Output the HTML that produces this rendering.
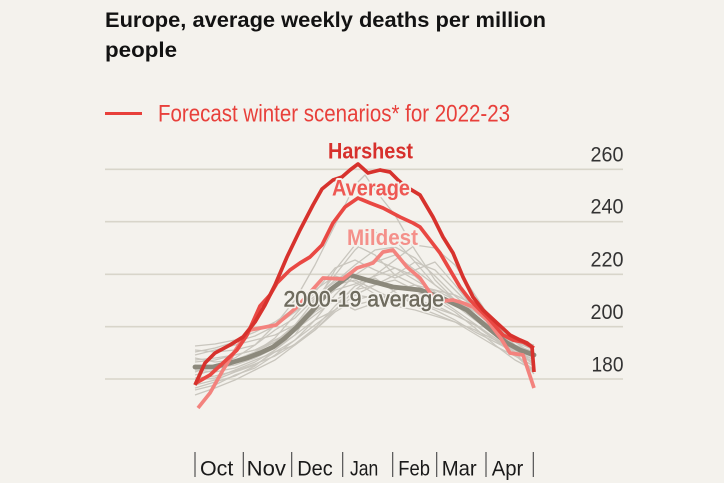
<!DOCTYPE html>
<html>
<head>
<meta charset="utf-8">
<style>
  html,body{margin:0;padding:0;background:#f4f2ed;}
  svg{display:block;}
  text{font-family:"Liberation Sans",sans-serif;}
</style>
</head>
<body>
<svg width="724" height="483" viewBox="0 0 724 483" xmlns="http://www.w3.org/2000/svg">
  <rect x="0" y="0" width="724" height="483" fill="#f4f2ed"/>

  <!-- Title -->
  <text x="105" y="27" font-size="21" font-weight="bold" fill="#121212" textLength="441" lengthAdjust="spacingAndGlyphs">Europe, average weekly deaths per million</text>
  <text x="105" y="57" font-size="21" font-weight="bold" fill="#121212" textLength="72" lengthAdjust="spacingAndGlyphs">people</text>

  <!-- Legend -->
  <line x1="105" y1="113.5" x2="142" y2="113.5" stroke="#e8403b" stroke-width="3"/>
  <text x="158" y="121.5" font-size="24" fill="#e8403b" textLength="352" lengthAdjust="spacingAndGlyphs">Forecast winter scenarios* for 2022-23</text>

  <!-- Gridlines -->
  <g stroke="#d8d5ca" stroke-width="1.6">
    <line x1="105" y1="169.3" x2="623" y2="169.3"/>
    <line x1="105" y1="221.7" x2="623" y2="221.7"/>
    <line x1="105" y1="274.3" x2="623" y2="274.3"/>
    <line x1="105" y1="326.7" x2="623" y2="326.7"/>
    <line x1="105" y1="379" x2="623" y2="379"/>
  </g>

  <!-- Y labels -->
  <g font-size="21" fill="#333" text-anchor="end">
    <text x="623.5" y="161.7" textLength="33" lengthAdjust="spacingAndGlyphs">260</text>
    <text x="623.5" y="213.7" textLength="33" lengthAdjust="spacingAndGlyphs">240</text>
    <text x="623.5" y="266.5" textLength="33" lengthAdjust="spacingAndGlyphs">220</text>
    <text x="623.5" y="319" textLength="33" lengthAdjust="spacingAndGlyphs">200</text>
    <text x="623.5" y="371.5" textLength="32" lengthAdjust="spacingAndGlyphs">180</text>
  </g>

  <!-- Thin grey year lines -->
  <g fill="none" stroke="#c9c6be" stroke-width="1.3" stroke-linejoin="round">
    <polyline points="195,372 215,365 235,358 255,345 275,325 295,300 315,265 335,225 355,185 365,175 375,190 395,215 415,250 435,280 455,300 475,318 495,335 515,350 534,360"/>
    <polyline points="195,360 215,358 235,355 255,350 275,340 295,330 315,315 335,300 355,290 375,275 395,260 415,245 435,248 455,265 475,295 495,325 515,345 534,365"/>
    <polyline points="195,380 215,378 235,370 255,362 275,350 295,335 315,305 335,270 355,245 375,255 395,275 415,285 435,295 455,305 475,320 495,335 515,350 534,365"/>
    <polyline points="195,355 215,350 235,345 255,340 275,335 295,325 315,310 335,300 355,305 375,300 395,295 415,300 435,305 455,315 475,325 495,338 515,355 534,370"/>
    <polyline points="195,390 215,385 235,375 255,368 275,355 295,340 315,320 335,295 355,275 375,262 395,255 415,270 435,285 455,300 475,315 495,330 515,342 534,350"/>
    <polyline points="195,365 215,368 235,365 255,358 275,348 295,335 315,320 335,310 355,295 375,298 395,300 415,300 435,308 455,315 475,325 495,340 515,355 534,372"/>
    <polyline points="195,375 215,370 235,362 255,352 275,338 295,315 315,292 335,268 355,260 375,270 395,278 415,270 435,262 455,285 475,310 495,330 515,348 534,358"/>
    <polyline points="195,358 215,362 235,360 255,355 275,345 295,330 315,312 335,300 355,310 375,303 395,290 415,285 435,290 455,300 475,312 495,325 515,340 534,348"/>
    <polyline points="195,385 215,380 235,372 255,365 275,352 295,340 315,325 335,310 355,295 375,285 395,280 415,290 435,300 455,312 475,328 495,345 515,360 534,370"/>
    <polyline points="195,350 215,352 235,350 255,345 275,330 295,318 315,298 335,280 355,270 375,260 395,268 415,280 435,292 455,305 475,318 495,332 515,345 534,352"/>
    <polyline points="195,370 215,372 235,368 255,360 275,352 295,345 315,330 335,310 355,290 375,285 395,275 415,262 435,270 455,290 475,310 495,328 515,342 534,355"/>
    <polyline points="195,362 215,360 235,355 255,350 275,342 295,325 315,300 335,275 355,250 375,232 395,240 415,262 435,285 455,300 475,315 495,330 515,345 534,358"/>
    <polyline points="195,395 215,388 235,380 255,370 275,360 295,345 315,330 335,312 355,300 375,295 395,298 415,302 435,310 455,320 475,332 495,342 515,352 534,362"/>
    <polyline points="195,368 215,365 235,360 255,352 275,342 295,325 315,305 335,285 355,280 375,290 395,300 415,295 435,290 455,295 475,305 495,322 515,340 534,350"/>
    <polyline points="195,352 215,348 235,342 255,336 275,326 295,312 315,296 335,282 355,265 375,250 395,247 415,258 435,276 455,296 475,312 495,328 515,340 534,345"/>
    <polyline points="195,378 215,376 235,371 255,364 275,356 295,344 315,328 335,306 355,286 375,278 395,292 415,306 435,314 455,322 475,334 495,346 515,356 534,366"/>
    <polyline points="195,346 215,344 235,340 255,332 275,322 295,308 315,290 335,276 355,282 375,294 395,306 415,310 435,316 455,322 475,330 495,340 515,350 534,360"/>
    <polyline points="195,388 215,382 235,376 255,366 275,350 295,330 315,306 335,290 355,284 375,276 395,268 415,276 435,296 455,310 475,324 495,338 515,352 534,374"/>
  </g>

  <!-- 2000-19 average -->
  <polyline fill="none" stroke="#8c897c" stroke-width="4.8" stroke-linejoin="round" stroke-linecap="round"
    points="195,367 213,367 230,363 247,358 260,353 273,347 285,338 297,327 313,310 330,290 350,275 367,280 393,287 420,290 440,297 467,310 487,327 507,343 520,350 534,355"/>

  <!-- Mildest -->
  <polyline fill="none" stroke="#f3837e" stroke-width="3.7" stroke-linejoin="round"
    points="198,408 210,393 223,370 240,343 250,330 276,325 297,307 323,278 343,279 357,268 373,263 383,252 393,250 407,267 420,278 433,297 443,301 453,300 463,303 473,307 487,320 500,337 510,353 523,355 534,388"/>

  <!-- Average -->
  <polyline fill="none" stroke="#e94843" stroke-width="3.7" stroke-linejoin="round"
    points="196,383 210,375 223,363 237,350 247,335 260,306 270,295 277,283 290,270 300,263 310,257 322,245 333,223 345,207 358,198 370,203 383,208 400,217 413,223 420,227 430,240 440,253 450,270 460,287 470,300 480,310 490,320 503,335 513,340 523,342 534,348"/>

  <!-- Harshest -->
  <polyline fill="none" stroke="#d7322d" stroke-width="3.7" stroke-linejoin="round"
    points="195,385 205,363 215,353 230,345 243,337 255,322 265,305 275,285 287,257 300,230 313,205 322,189 333,180 342,177 350,170 358,164 368,173 380,170 390,172 398,180 405,186 415,192 420,195 433,217 443,237 453,253 463,277 473,297 483,310 497,323 510,335 520,340 527,343 532,347 534,372"/>

  <!-- Series labels -->
  <g font-size="22" font-weight="bold" stroke="#f4f2ed" stroke-width="4" paint-order="stroke" stroke-linejoin="round">
    <text x="328" y="158.3" fill="#d7302c" textLength="85" lengthAdjust="spacingAndGlyphs">Harshest</text>
    <text x="332" y="195.7" fill="#ee5853" textLength="78" lengthAdjust="spacingAndGlyphs">Average</text>
    <text x="347" y="245" fill="#f4908a" textLength="71" lengthAdjust="spacingAndGlyphs">Mildest</text>
  </g>
  <text x="283.5" y="306.7" font-size="22" fill="#6f6c5f" stroke="#f4f2ed" stroke-width="3.5" paint-order="stroke" stroke-linejoin="round" textLength="160.5" lengthAdjust="spacingAndGlyphs">2000-19 average</text>
  <text x="283.5" y="306.7" font-size="22" fill="#6f6c5f" stroke="#6f6c5f" stroke-width="0.5" textLength="160.5" lengthAdjust="spacingAndGlyphs">2000-19 average</text>

  <!-- X axis month ticks -->
  <g stroke="#444" stroke-width="1.1">
    <line x1="195" y1="452" x2="195" y2="477"/>
    <line x1="243.3" y1="452" x2="243.3" y2="477"/>
    <line x1="291.7" y1="452" x2="291.7" y2="477"/>
    <line x1="342.7" y1="452" x2="342.7" y2="477"/>
    <line x1="392.7" y1="452" x2="392.7" y2="477"/>
    <line x1="436.7" y1="452" x2="436.7" y2="477"/>
    <line x1="486" y1="452" x2="486" y2="477"/>
    <line x1="533.3" y1="452" x2="533.3" y2="477"/>
  </g>
  <g font-size="21" fill="#1a1a1a">
    <text x="200" y="475.5" textLength="33.3" lengthAdjust="spacingAndGlyphs">Oct</text>
    <text x="246.7" y="475.5" textLength="39.3" lengthAdjust="spacingAndGlyphs">Nov</text>
    <text x="297.3" y="475.5" textLength="35.4" lengthAdjust="spacingAndGlyphs">Dec</text>
    <text x="350" y="475.5" textLength="28.3" lengthAdjust="spacingAndGlyphs">Jan</text>
    <text x="398.3" y="475.5" textLength="31.7" lengthAdjust="spacingAndGlyphs">Feb</text>
    <text x="441.7" y="475.5" textLength="35" lengthAdjust="spacingAndGlyphs">Mar</text>
    <text x="491.7" y="475.5" textLength="31.6" lengthAdjust="spacingAndGlyphs">Apr</text>
  </g>
</svg>
</body>
</html>
